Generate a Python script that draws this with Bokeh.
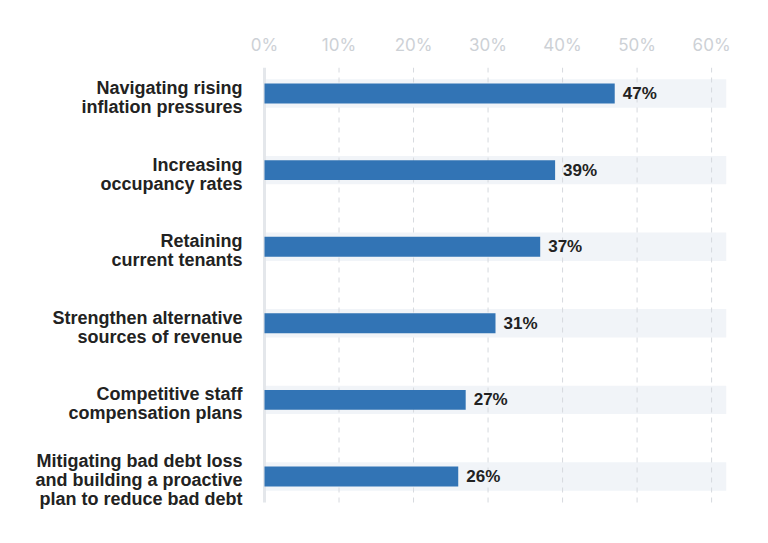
from bokeh.plotting import figure
from bokeh.models import Range1d, FixedTicker, ColumnDataSource
from bokeh.core.properties import value
from bokeh.embed import file_html
from bokeh.resources import INLINE

categories = [
    "Navigating rising\ninflation pressures",
    "Increasing\noccupancy rates",
    "Retaining\ncurrent tenants",
    "Strengthen alternative\nsources of revenue",
    "Competitive staff\ncompensation plans",
    "Mitigating bad debt loss\nand building a proactive\nplan to reduce bad debt",
]
values = [47, 39, 37, 31, 27, 26]
x_ticks = [0, 10, 20, 30, 40, 50, 60]
x_tick_labels = ["0%", "10%", "20%", "30%", "40%", "50%", "60%"]
x_max = 62

FONT = "Liberation Sans"
W, H = 750, 525
TOP = 67
Y0, Y1 = -0.34, 5.34          # visible row span of the plot area
AXIS_X = 264                  # pixel position of the 0% line
RIGHT = 24
ppu_y = (H - TOP - 23) / (Y1 - Y0)
ppu_x = (W - AXIS_X - RIGHT) / x_max
x_left = -AXIS_X / ppu_x

pos = list(range(len(categories)))
src = ColumnDataSource(dict(
    y=pos,
    v=values,
    lbl=[f"{v}%" for v in values],
    full=[x_max] * len(values),
    cat=categories,
    zero=[0] * len(values),
))
grid_src = ColumnDataSource(dict(
    x=x_ticks[1:],
    y0=[Y0] * (len(x_ticks) - 1),
    y1=[Y1] * (len(x_ticks) - 1),
))

p = figure(width=W, height=H, output_backend="svg", toolbar_location=None,
           x_range=Range1d(x_left, x_max),
           y_range=Range1d(Y1 + 23 / ppu_y, Y0),
           x_axis_location="above", y_axis_location=None,
           min_border_left=0, min_border_right=RIGHT, min_border_top=TOP, min_border_bottom=0)
p.outline_line_color = None
p.background_fill_color = "white"
p.xgrid.visible = False
p.ygrid.visible = False

p.hbar(y="y", left=0, right="full", height=0.37, source=src,
       fill_color="#f1f4f8", line_color=None)

p.segment(x0="x", x1="x", y0="y0", y1="y1", source=grid_src,
          line_color="#d6d9de", line_width=1, line_dash="5 5")

p.segment(x0=0, x1=0, y0=Y0, y1=Y1, line_color="#e4e7eb", line_width=3)

p.hbar(y="y", left=0, right="v", height=0.26, source=src,
       fill_color="#3274b5", line_color=None)

p.text(x="v", y="y", text="lbl", source=src, x_offset=8,
       text_font=value(FONT), text_font_style="bold", text_font_size="17px",
       text_color="#222222", text_baseline="middle", text_align="left")

p.text(x="zero", y="y", text="cat", source=src, x_offset=-22, y_offset=4,
       text_font=value(FONT), text_font_style="bold", text_font_size="18px",
       text_color="#222222", text_baseline="middle", text_align="right",
       text_line_height=0.95)

xa = p.xaxis[0]
xa.ticker = FixedTicker(ticks=x_ticks)
xa.major_label_overrides = {t: l for t, l in zip(x_ticks, x_tick_labels)}
xa.axis_line_color = None
xa.major_tick_line_color = None
xa.minor_tick_line_color = None
xa.major_label_text_color = "#cdd1d6"
xa.major_label_text_font = "Inter"
xa.major_label_text_font_size = "17px"
xa.major_label_standoff = 7

open("out.html", "w").write(file_html(p, INLINE))
